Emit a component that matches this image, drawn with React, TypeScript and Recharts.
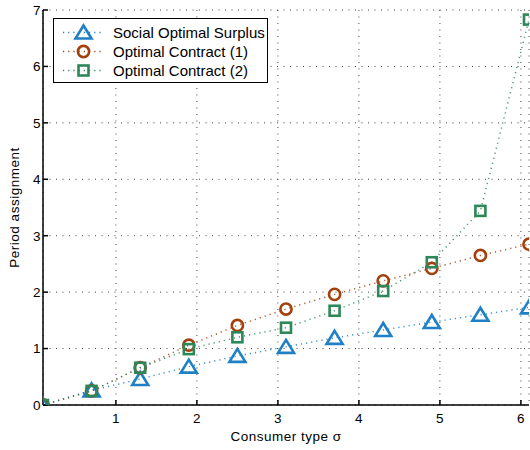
import { CartesianGrid, Legend, Line, LineChart, XAxis, YAxis } from "recharts";

const sigma = [0.1, 0.7, 1.3, 1.9, 2.5, 3.1, 3.7, 4.3, 4.9, 5.5, 6.1];
const socialSurplus = [0, 0.26, 0.46, 0.68, 0.87, 1.03, 1.19, 1.33, 1.47, 1.6, 1.73];
const contract1 = [0, 0.25, 0.66, 1.06, 1.41, 1.7, 1.96, 2.2, 2.42, 2.65, 2.85];
const contract2 = [0, 0.25, 0.66, 0.99, 1.2, 1.37, 1.67, 2.02, 2.53, 3.44, 6.83];
const xTicks = [1, 2, 3, 4, 5, 6];
const yTicks = [0, 1, 2, 3, 4, 5, 6, 7];

const BLUE = "#1f80c6";
const BROWN = "#a3400e";
const GREEN = "#2e8759";
const FONT = "'Liberation Sans', Arial, sans-serif";

const data = sigma.map((s, i) => ({
  sigma: s,
  social: socialSurplus[i],
  c1: contract1[i],
  c2: contract2[i],
}));

type DotProps = { cx?: number; cy?: number; key?: string; index?: number };

function Triangle({ cx, cy }: DotProps, color: string) {
  if (cx == null || cy == null) return null;
  return (
    <path
      d={`M${cx},${cy - 7} L${cx + 8},${cy + 6} L${cx - 8},${cy + 6} Z`}
      fill="none"
      stroke={color}
      strokeWidth={2.6}
      strokeLinejoin="miter"
    />
  );
}

function Circle({ cx, cy }: DotProps, color: string) {
  if (cx == null || cy == null) return null;
  return <circle cx={cx} cy={cy} r={5.6} fill="none" stroke={color} strokeWidth={2.6} />;
}

function Square({ cx, cy }: DotProps, color: string) {
  if (cx == null || cy == null) return null;
  return <rect x={cx - 5} y={cy - 5} width={10} height={10} fill="none" stroke={color} strokeWidth={2.6} />;
}

const series = [
  { key: "social", name: "Social Optimal Surplus", color: BLUE, marker: Triangle },
  { key: "c1", name: "Optimal Contract (1)", color: BROWN, marker: Circle },
  { key: "c2", name: "Optimal Contract (2)", color: GREEN, marker: Square },
];

function LegendBox() {
  return (
    <div
      style={{
        border: "1px solid #000",
        background: "#fff",
        padding: "4px 0 2px 0",
        fontFamily: FONT,
        fontSize: 15,
        color: "#000",
        width: 213,
        lineHeight: "19px",
      }}
    >
      {series.map((s) => (
        <div key={s.key} style={{ display: "flex", alignItems: "center", height: 19 }}>
          <svg width={59} height={19} style={{ flex: "none" }}>
            <line x1={9} y1={9.5} x2={50} y2={9.5} stroke={s.color} strokeWidth={1.5} strokeDasharray="1.2 4" />
            {s.marker({ cx: 29.5, cy: 9.5 }, s.color)}
          </svg>
          <span style={{ whiteSpace: "nowrap" }}>{s.name}</span>
        </div>
      ))}
    </div>
  );
}

const tickStyle = { fontSize: 13.5, fill: "#000", fontFamily: FONT, letterSpacing: 0.4 };
const labelStyle = { fontSize: 13.5, fill: "#000", fontFamily: FONT, letterSpacing: 0.5 };

export default function App() {
  return (
    <div style={{ position: "absolute", left: 0, top: 0, background: "#fff" }}>
      <LineChart width={530} height={450} data={data} margin={{ top: 10, right: 1, left: 0, bottom: 0 }}>
        <CartesianGrid stroke="#444" strokeDasharray="1 5.5" strokeWidth={1} />
        <XAxis
          dataKey="sigma"
          type="number"
          domain={[0.1, 6.1]}
          ticks={xTicks}
          allowDataOverflow
          height={45}
          stroke="#000"
          strokeWidth={1.5}
          tickSize={-5}
          tickMargin={13}
          tick={tickStyle}
          label={{ value: "Consumer type σ", position: "insideBottom", offset: 9, ...labelStyle }}
        />
        <XAxis
          xAxisId="top"
          orientation="top"
          type="number"
          domain={[0.1, 6.1]}
          ticks={xTicks}
          allowDataOverflow
          height={0}
          stroke="#000"
          strokeWidth={1.5}
          tickSize={-5}
          tick={false}
        />
        <YAxis
          type="number"
          domain={[0, 7]}
          ticks={yTicks}
          allowDataOverflow
          width={43}
          stroke="#000"
          strokeWidth={1.5}
          tickSize={-5}
          tickMargin={7}
          tick={tickStyle}
          label={{
            value: "Period assignment",
            angle: -90,
            position: "insideLeft",
            offset: 14,
            style: { textAnchor: "middle" },
            ...labelStyle,
          }}
        />
        <YAxis
          yAxisId="right"
          orientation="right"
          type="number"
          domain={[0, 7]}
          ticks={yTicks}
          allowDataOverflow
          width={0}
          stroke="#000"
          strokeWidth={1.5}
          tickSize={-5}
          tick={false}
        />
        <Legend
          layout="vertical"
          align="center"
          verticalAlign="middle"
          wrapperStyle={{ top: 18, left: 53, width: "auto" }}
          content={() => <LegendBox />}
        />
        {series.map((s) => (
          <Line
            key={s.key}
            dataKey={s.key}
            name={s.name}
            type="linear"
            stroke={s.color}
            strokeOpacity={0.85}
            strokeWidth={1.5}
            strokeDasharray="1.2 4"
            dot={(p: DotProps) => <g key={`${s.key}-${p.index}`}>{s.marker(p, s.color)}</g>}
            activeDot={false}
            isAnimationActive={false}
          />
        ))}
      </LineChart>
    </div>
  );
}
